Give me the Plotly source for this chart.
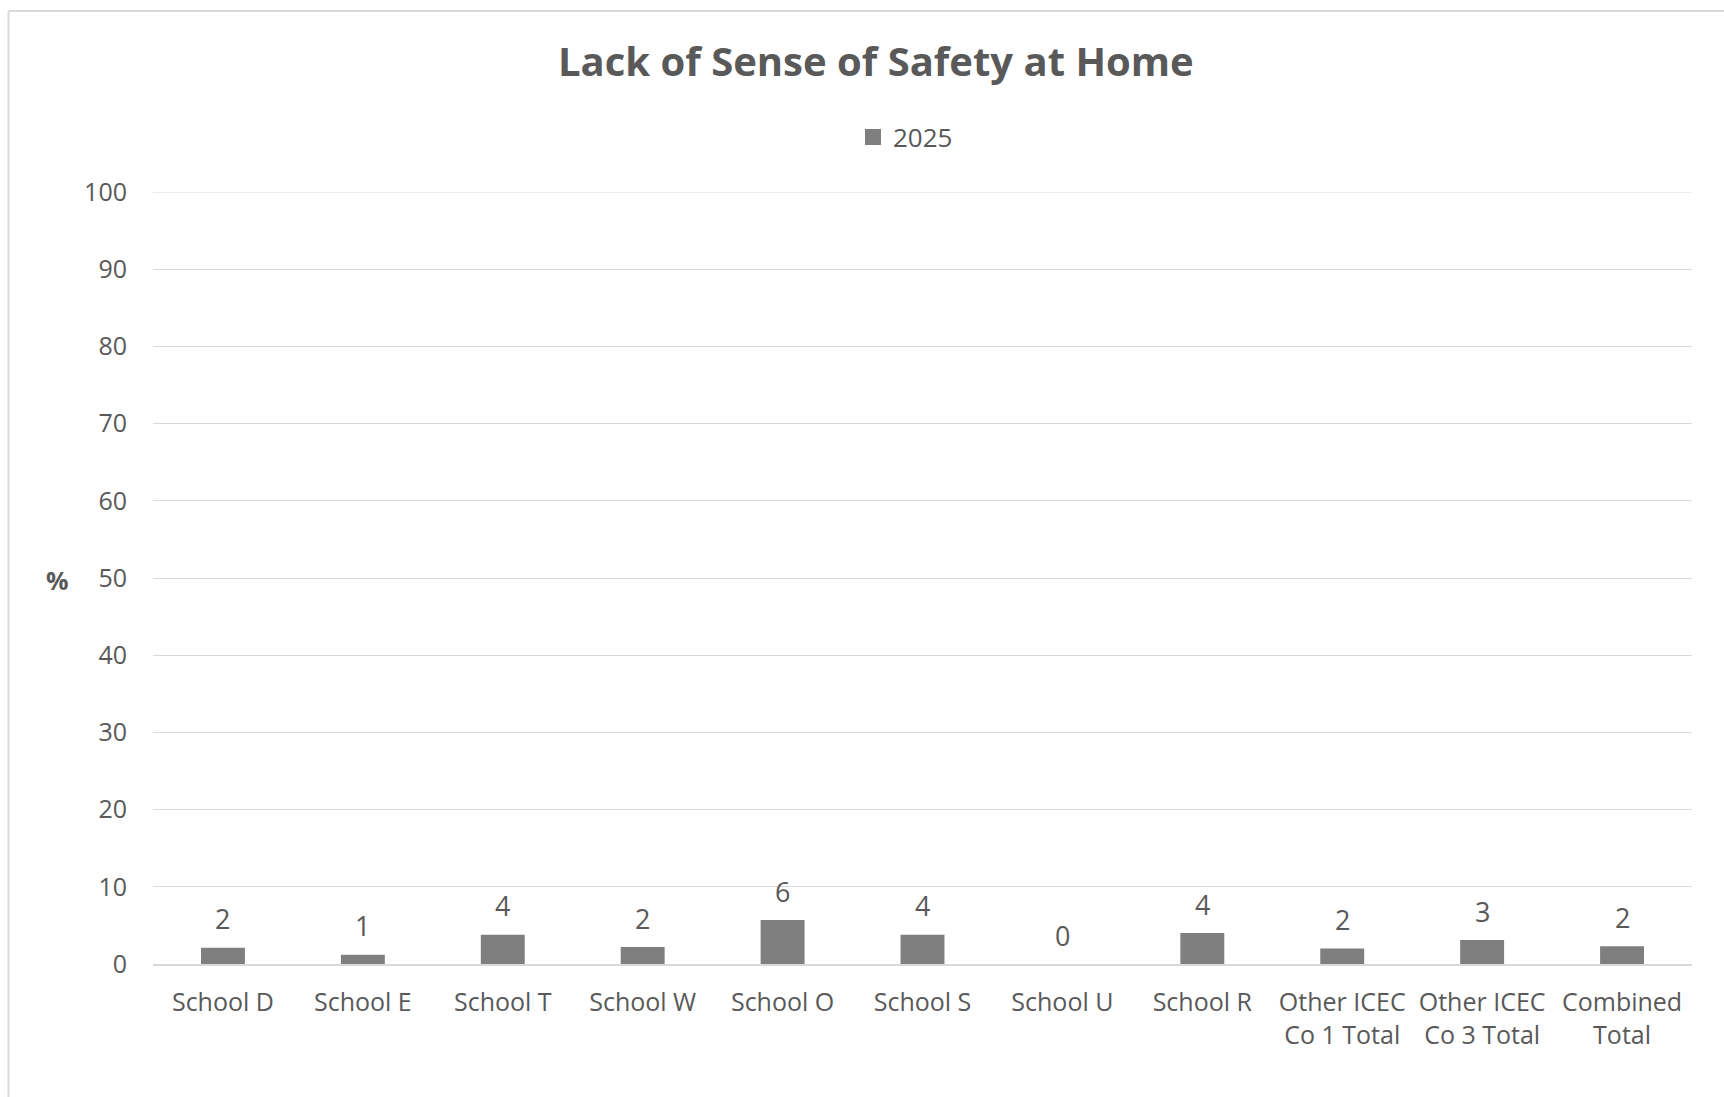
import plotly.graph_objects as go

# Survey results: share of students reporting a lack of sense of safety at home
categories = [
    "School D", "School E", "School T", "School W", "School O", "School S",
    "School U", "School R", "Other ICEC<br>Co 1 Total", "Other ICEC<br>Co 3 Total",
    "Combined<br>Total",
]
values_2025 = [2.1, 1.2, 3.8, 2.2, 5.7, 3.8, 0.0, 4.0, 2.0, 3.1, 2.3]
series_name = "2025"
y_ticks = [0, 10, 20, 30, 40, 50, 60, 70, 80, 90, 100]

W, H = 1724, 1097
L, R, T, B = 153, 32, 192, 133
TEXT = "#595959"
BAR = "#7f7f7f"
GRID = "#d9d9d9"
FONT = "Open Sans"

plot_w = W - L - R
plot_h = H - T - B


def px_x(px):
    return (px - L) / plot_w


def px_y(py):
    return (H - B - py) / plot_h


fig = go.Figure()

fig.add_trace(go.Bar(
    x=categories,
    y=values_2025,
    marker=dict(color=BAR, line=dict(width=0)),
    name=series_name,
    showlegend=False,
    hoverinfo="x+y",
))

# legend entry with a larger square swatch
fig.add_trace(go.Scatter(
    x=[None], y=[None],
    mode="markers",
    marker=dict(symbol="square", size=19, color=BAR),
    name=series_name,
    showlegend=True,
))

annotations = []
for cat, val in zip(categories, values_2025):
    annotations.append(dict(
        x=cat, y=val, xref="x", yref="y",
        text=f"{val:.0f}",
        showarrow=False,
        yanchor="middle",
        yshift=29,
        font=dict(family=FONT, size=27, color=TEXT),
    ))

annotations.append(dict(
    x=px_x(876), y=px_y(60), xref="paper", yref="paper",
    text="<b>Lack of Sense of Safety at Home</b>",
    showarrow=False, xanchor="center", yanchor="middle",
    font=dict(family=FONT, size=40, color=TEXT),
))
annotations.append(dict(
    x=px_x(57), y=px_y(580), xref="paper", yref="paper",
    text="<b>%</b>",
    showarrow=False, xanchor="center", yanchor="middle",
    font=dict(family=FONT, size=25, color=TEXT),
))

shapes = [
    # chart-area border (left and top edges)
    dict(type="line", xref="paper", yref="paper",
         x0=px_x(8.5), x1=px_x(8.5), y0=px_y(11), y1=px_y(H + 5),
         line=dict(color=GRID, width=2)),
    dict(type="line", xref="paper", yref="paper",
         x0=px_x(8.5), x1=px_x(W + 5), y0=px_y(11), y1=px_y(11),
         line=dict(color=GRID, width=2)),
    # gridline at the top of the value range
    dict(type="line", xref="paper", yref="y",
         x0=0, x1=1, y0=y_ticks[-1], y1=y_ticks[-1],
         line=dict(color=GRID, width=1)),
]

fig.update_layout(
    width=W, height=H,
    margin=dict(l=L, r=R, t=T, b=B, autoexpand=False),
    paper_bgcolor="white",
    plot_bgcolor="white",
    bargap=0.686,
    font=dict(family=FONT, color=TEXT),
    annotations=annotations,
    shapes=shapes,
    legend=dict(
        orientation="h",
        xref="container", yref="container",
        x=853 / W, xanchor="left",
        y=1 - 137 / H, yanchor="middle",
        font=dict(family=FONT, size=26, color=TEXT),
        bgcolor="rgba(0,0,0,0)",
    ),
    xaxis=dict(
        showgrid=False,
        showline=True, linecolor=GRID, linewidth=2,
        ticks="", tickfont=dict(family=FONT, size=25, color=TEXT),
        ticklabelstandoff=15,
        zeroline=False,
    ),
    yaxis=dict(
        range=[0, 100],
        tickvals=y_ticks,
        showgrid=True, gridcolor=GRID, gridwidth=1,
        zeroline=False, showline=False,
        ticks="", tickfont=dict(family=FONT, size=25, color=TEXT),
        ticklabelstandoff=25,
    ),
)

fig.write_html("out.html")
